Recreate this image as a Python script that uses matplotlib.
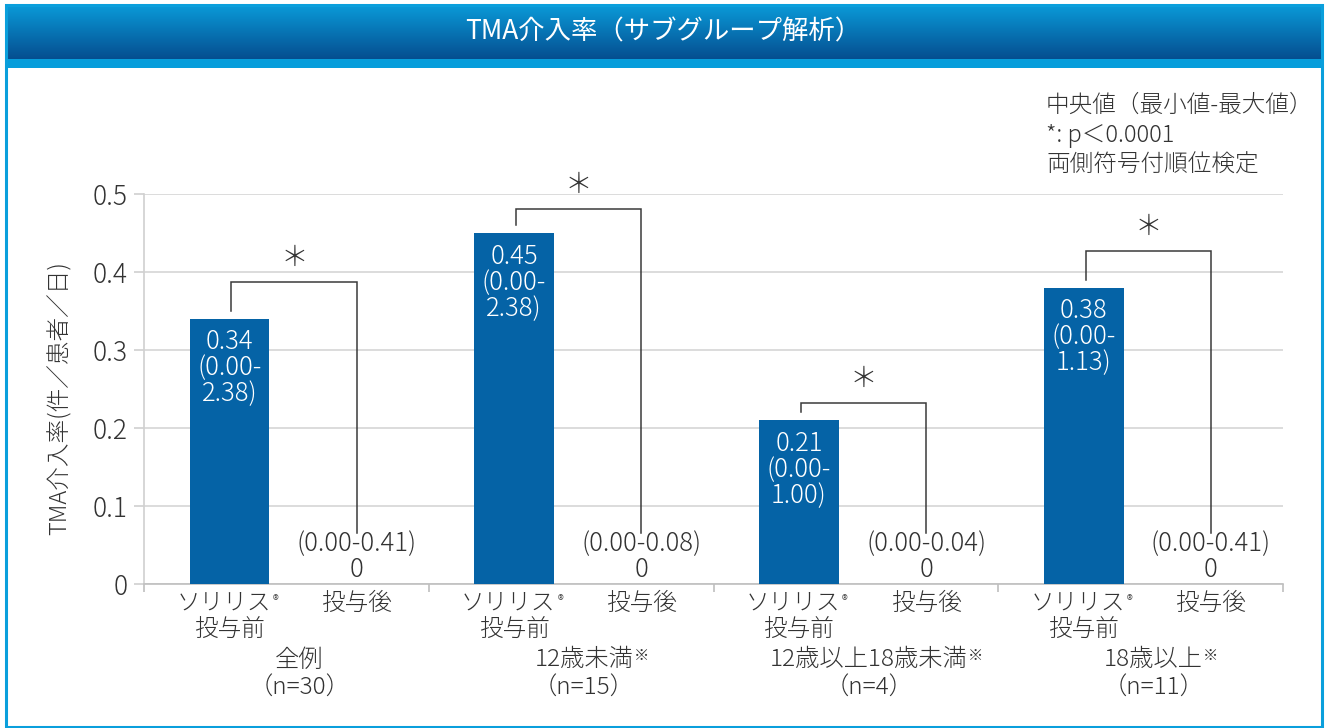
import numpy as np
import matplotlib
matplotlib.use("Agg")
import matplotlib.pyplot as plt
from matplotlib.patches import Rectangle
from matplotlib.colors import to_rgb

plt.rcParams['font.family'] = ['Noto Sans CJK JP', 'DejaVu Sans']
plt.rcParams['font.weight'] = 'light'

# data
groups = ['全例', '12歳未満', '12歳以上18歳未満', '18歳以上']
group_mark = [False, True, True, True]
group_n = [30, 15, 4, 11]
before_median = [0.34, 0.45, 0.21, 0.38]
before_range = ['0.00-2.38', '0.00-2.38', '0.00-1.00', '0.00-1.13']
after_median = [0, 0, 0, 0]
after_range = ['0.00-0.41', '0.00-0.08', '0.00-0.04', '0.00-0.41']
yticks = [0, 0.1, 0.2, 0.3, 0.4, 0.5]

W, H = 1326, 728
fig = plt.figure(figsize=(W / 100, H / 100), dpi=100)

def fx(px):
    return px / W

def fy(py):
    return 1 - py / H

txt_c = '#333333'
bar_c = '#0563a6'

# title bar with gradient
ax_t = fig.add_axes([fx(7), fy(59), fx(1321) - fx(7), fy(5) - fy(59)])
c_top, c_bot = np.array(to_rgb('#0a9ad8')), np.array(to_rgb('#054e90'))
t = np.linspace(0, 1, 100)[:, None, None]
grad = c_top * (1 - t) + c_bot * t
ax_t.imshow(grad, aspect='auto', extent=(0, 1, 0, 1))
ax_t.axis('off')
fig.text(0.5, fy(32), 'TMA介入率（サブグループ解析）', color='white',
         ha='center', va='center', fontsize=19, fontweight='normal')
fig.add_artist(Rectangle((fx(7), fy(68)), fx(1321) - fx(7), fy(59) - fy(68),
                         transform=fig.transFigure, color='#079ddb', lw=0))
fig.add_artist(Rectangle((fx(6), fy(726.5)), fx(1321.5) - fx(6), fy(5) - fy(726.5),
                         transform=fig.transFigure, fill=False,
                         ec='#0a9fdc', lw=2.2))

# main axes
ax = fig.add_axes([fx(144), fy(584), fx(1283) - fx(144), fy(194) - fy(584)])
ax.patch.set_alpha(0)
x = np.arange(len(groups))
off1, off2, bw = -0.2, 0.247, 0.28

ax.bar(x + off1, before_median, bw, color=bar_c, zorder=3)
ax.bar(x + off2, after_median, bw, color=bar_c, zorder=3)

for i in range(len(groups)):
    lo, hi = before_range[i].split('-')
    ax.annotate(f"{before_median[i]:.2f}\n({lo}-\n{hi})",
                xy=(x[i] + off1, before_median[i]), xytext=(0, -10),
                textcoords='offset pixels', ha='center', va='top',
                color='white', fontsize=18.5, linespacing=0.98, zorder=5)
    ax.annotate(f"({after_range[i]})\n{after_median[i]:g}",
                xy=(x[i] + off2, after_median[i]), xytext=(0, 1),
                textcoords='offset pixels', ha='center', va='bottom',
                color=txt_c, fontsize=18.5, linespacing=0.98, zorder=5)

# significance brackets
bracket_top = [0.387, 0.481, 0.232, 0.427]
for i in range(len(groups)):
    xl, xr = x[i] + off1 + 0.007, x[i] + off2
    yl = before_median[i] + 0.01
    yt = bracket_top[i]
    ax.plot([xl, xl, xr, xr], [yl, yt, yt, 0.065], color='#3a3a3a', lw=1.1,
            zorder=4, solid_joinstyle='miter')
    ax.annotate('＊', xy=((xl + xr) / 2, yt), xytext=(0, 24),
                textcoords='offset pixels', ha='center', va='center',
                color=txt_c, fontsize=20)

# category labels
for i in range(len(groups)):
    t1 = ax.annotate('ソリリス', xy=(x[i] + off1, 0), xytext=(-6, -19),
                     textcoords='offset pixels', ha='center', va='center',
                     color=txt_c, fontsize=17, annotation_clip=False)
    ax.annotate('®', xy=(1, 0.85), xycoords=t1, xytext=(2, 0),
                textcoords='offset pixels', ha='left', va='top',
                color=txt_c, fontsize=9)
    ax.annotate('投与前', xy=(x[i] + off1, 0), xytext=(0, -46),
                textcoords='offset pixels', ha='center', va='center',
                color=txt_c, fontsize=17, annotation_clip=False)
    ax.annotate('投与後', xy=(x[i] + off2, 0), xytext=(0, -19),
                textcoords='offset pixels', ha='center', va='center',
                color=txt_c, fontsize=17, annotation_clip=False)
    gx = x[i] + 0.045
    tg = ax.annotate(groups[i], xy=(gx, 0), xytext=(0, -76),
                     textcoords='offset pixels', ha='center', va='center',
                     color=txt_c, fontsize=17.5, annotation_clip=False)
    if group_mark[i]:
        ax.annotate('※', xy=(1, 0.95), xycoords=tg, xytext=(0, 0),
                    textcoords='offset pixels', ha='left', va='top',
                    color=txt_c, fontsize=11)
    ax.annotate(f'（n={group_n[i]}）', xy=(gx, 0), xytext=(0, -104),
                textcoords='offset pixels', ha='center', va='center',
                color=txt_c, fontsize=17.5, annotation_clip=False)

ax.set_xlim(-0.5, len(groups) - 0.5)
ax.set_ylim(0, 0.5)
ax.set_yticks(yticks)
ax.set_yticklabels([f'{v:g}' for v in yticks])
ax.set_xticks([])
ax.set_xticks(np.arange(-0.5, len(groups), 1), minor=True)
ax.tick_params(axis='y', length=7, color='#d0d0d0', labelsize=19,
               labelcolor=txt_c, pad=5, width=1.2)
ax.tick_params(axis='x', which='minor', length=6, color='#bfbfbf', width=1.2)
ax.yaxis.grid(True, color='#d9d9d9', lw=1.3)
ax.set_axisbelow(True)
for s in ['top', 'right']:
    ax.spines[s].set_visible(False)
ax.spines['left'].set_color('#d0d0d0')
ax.spines['bottom'].set_color('#bfbfbf')
ax.spines['left'].set_linewidth(1.2)
ax.spines['bottom'].set_linewidth(1.2)

fig.text(fx(60), fy(398), 'TMA介入率(件／患者／日)', rotation=90,
         ha='center', va='center', color=txt_c, fontsize=17)

# notes
notes = ['中央値（最小値-最大値）', '*: p＜0.0001', '両側符号付順位検定']
for k, s in enumerate(notes):
    fig.text(fx(1046), fy(105 + 30 * k), s, ha='left', va='center',
             color=txt_c, fontsize=17)

fig.savefig('out.png', dpi=100)
